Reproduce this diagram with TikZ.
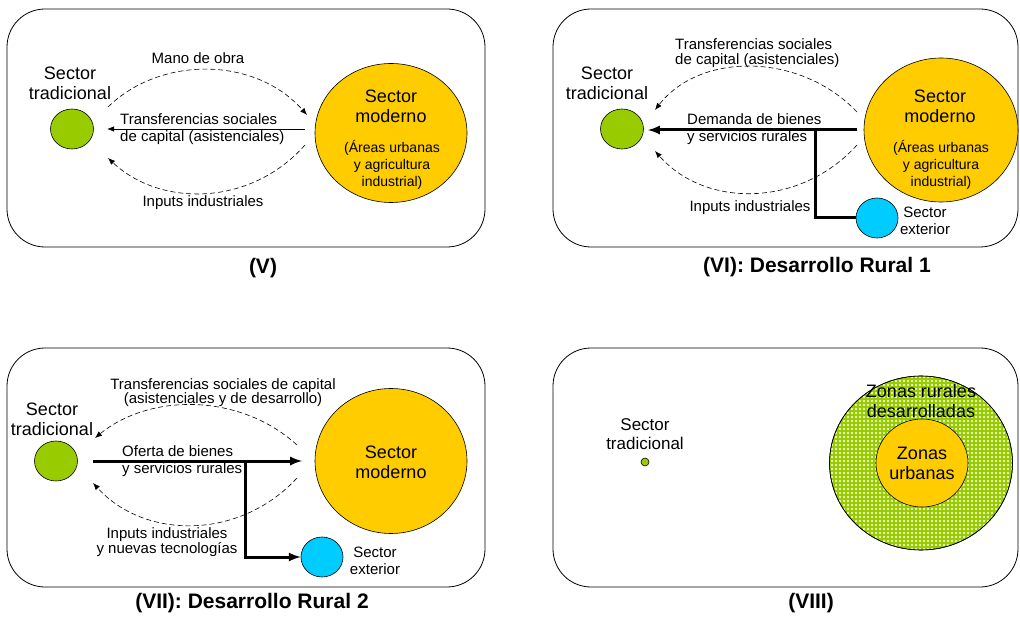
\documentclass[tikz,border=0pt]{standalone}
\usepackage{fontspec}
\setmainfont{Liberation Sans}
\usetikzlibrary{shapes.geometric,patterns,arrows.meta}

\definecolor{verde}{HTML}{99CC00}
\definecolor{oro}{HTML}{FFCC00}
\definecolor{celeste}{HTML}{00CCFF}

% white specks for the developed rural ring
\pgfdeclarepatternformonly{motas}{\pgfqpoint{-1.3pt}{-1.3pt}}{\pgfqpoint{1.3pt}{1.3pt}}{\pgfqpoint{4pt}{4pt}}{%
  \pgfpathcircle{\pgfqpoint{0pt}{0pt}}{1.2pt}\pgfusepath{fill}}

\begin{document}
\begin{tikzpicture}[>=latex, x=1pt, y=-1pt,
  panel/.style={draw, line width=0.8pt, rounded corners=38pt},
  bola/.style={ellipse, draw, line width=0.6pt, inner sep=0pt},
  bigtxt/.style={align=center, inner sep=0pt, font=\fontsize{18}{20}\selectfont},
  subtxt/.style={align=center, inner sep=0pt, font=\fontsize{14}{17}\selectfont},
  lbl/.style={inner sep=0pt, font=\fontsize{15}{17}\selectfont},
  titulo/.style={inner sep=0pt, font=\bfseries\fontsize{21}{24}\selectfont},
  flujo/.style={-{Latex[length=7pt,width=5.5pt]}, line width=0.6pt, dash pattern=on 5pt off 3pt},
  gruesa/.style={line width=3pt}]

\useasboundingbox (0,0) rectangle (1020,617);

% (V)
\draw[panel] (7,9) rectangle (485,247);
\node[bigtxt] (tradV) at (70,83) {Sector\\tradicional};
\node[bola, fill=verde, minimum width=43pt, minimum height=40pt] (verdeV) at (72,129) {};
\node[bola, fill=oro, minimum width=152pt, minimum height=139pt] (modV) at (391,133) {};
\node[bigtxt] (modVtxt) at (391,106) {Sector\\moderno};
\node[subtxt] (modVsub) at (392,165) {(Áreas urbanas\\y agricultura\\industrial)};
\coordinate (v1) at (108,107);
\coordinate (v2) at (307,115);
\coordinate (v3) at (305,129);
\coordinate (v4) at (107,129);
\coordinate (v5) at (305,145);
\coordinate (v6) at (108,158);
\draw[flujo] (v1) .. controls (160,56) and (255,56) .. (v2);
\draw[-{Latex[length=7pt,width=5.5pt]}, line width=0.8pt] (v3) -- (v4);
\draw[flujo] (v5) .. controls (250,207) and (160,207) .. (v6);
\node[lbl] (manoV) at (198,58) {Mano de obra};
\node[lbl, align=left, anchor=west] (transV) at (120,129) {Transferencias sociales\\de capital (asistenciales)};
\node[lbl] (inputsV) at (203,203) {Inputs industriales};
\node[titulo] (titV) at (263,268) {(V)};

% (VI): Desarrollo Rural 1
\draw[panel] (553,9) rectangle (1018,247);
\node[bigtxt] (tradVI) at (607,83) {Sector\\tradicional};
\node[bola, fill=verde, minimum width=43pt, minimum height=40pt] (verdeVI) at (622,129) {};
\node[bola, fill=oro, minimum width=154pt, minimum height=144pt] (modVI) at (941,130) {};
\node[bigtxt] (modVItxt) at (940,106) {Sector\\moderno};
\node[subtxt] (modVIsub) at (941,165) {(Áreas urbanas\\y agricultura\\industrial)};
\node[bola, fill=celeste, minimum width=42pt, minimum height=40pt] (extVI) at (877,218) {};
\node[lbl, align=center] (extVItxt) at (925,221) {Sector\\exterior};
\coordinate (w1) at (857,112);
\coordinate (w2) at (655,110);
\coordinate (w3) at (857,130);
\coordinate (w4) at (648,130);
\coordinate (w5) at (857,145);
\coordinate (w6) at (655,151);
\coordinate (wb) at (815,130);
\draw[flujo] (w1) .. controls (800,52) and (700,52) .. (w2);
\draw[flujo] (w5) .. controls (800,208) and (705,208) .. (w6);
\draw[gruesa, ->] (w3) -- (w4);
\draw[gruesa] (wb) |- (extVI.west);
\node[lbl, align=left, anchor=west, font=\fontsize{15}{15}\selectfont] (transVI) at (675,53) {Transferencias sociales\\de capital (asistenciales)};
\node[lbl, align=left, anchor=west] (demVI) at (687,129) {Demanda de bienes\\y servicios rurales};
\node[lbl] (inputsVI) at (750,208) {Inputs industriales};
\node[titulo] (titVI) at (817,267) {(VI): Desarrollo Rural 1};

% (VII): Desarrollo Rural 2
\draw[panel] (7,348) rectangle (485,587);
\node[bigtxt] (tradVII) at (52,419) {Sector\\tradicional};
\node[bola, fill=verde, minimum width=43pt, minimum height=40pt] (verdeVII) at (56,461) {};
\node[bola, fill=oro, minimum width=152pt, minimum height=145pt] (modVII) at (391,461) {};
\node[bigtxt] (modVIItxt) at (391,462) {Sector\\moderno};
\node[bola, fill=celeste, minimum width=42pt, minimum height=40pt] (extVII) at (322,557) {};
\node[lbl, align=center] (extVIItxt) at (375,561) {Sector\\exterior};
\coordinate (z1) at (297,445);
\coordinate (z2) at (95,438);
\coordinate (z3) at (93,461);
\coordinate (z4) at (302,461);
\coordinate (z5) at (297,478);
\coordinate (z6) at (93,483);
\coordinate (zb) at (245,461);
\draw[flujo] (z1) .. controls (240,393) and (150,393) .. (z2);
\draw[flujo] (z5) .. controls (240,540) and (145,540) .. (z6);
\draw[gruesa, ->] (z3) -- (z4);
\draw[gruesa, ->] (zb) |- (extVII.west);
\node[lbl, align=center, font=\fontsize{15}{14}\selectfont] (transVII) at (223,393) {Transferencias sociales de capital\\(asistenciales y de desarrollo)};
\node[lbl, align=left, anchor=west] (oferVII) at (122,461) {Oferta de bienes\\y servicios rurales};
\node[lbl, align=center, font=\fontsize{15}{14}\selectfont] (inputsVII) at (167,542) {Inputs industriales\\y nuevas tecnologías};
\node[titulo] (titVII) at (252,603) {(VII): Desarrollo Rural 2};

% (VIII)
\draw[panel] (553,348) rectangle (1018,587);
\node[bigtxt, font=\fontsize{17}{19}\selectfont] (tradVIII) at (645,434) {Sector\\tradicional};
\node[bola, fill=verde, minimum size=8pt] (verdeVIII) at (645,462) {};
\node[bola, fill=verde, minimum width=183pt, minimum height=174pt] (ruralVIII) at (921,463) {};
\fill[pattern=motas, pattern color=white] (ruralVIII.center) ellipse [x radius=91pt, y radius=86.5pt];
\draw[line width=0.6pt] (ruralVIII.center) ellipse [x radius=91.5pt, y radius=87pt];
\node[bola, fill=oro, minimum width=92pt, minimum height=88pt] (urbVIII) at (922,463) {};
\node[bigtxt] (ruraltxt) at (921,401) {Zonas rurales\\desarrolladas};
\node[bigtxt] (urbtxt) at (922,463) {Zonas\\urbanas};
\node[titulo] (titVIII) at (811,603) {(VIII)};

\end{tikzpicture}
\end{document}
